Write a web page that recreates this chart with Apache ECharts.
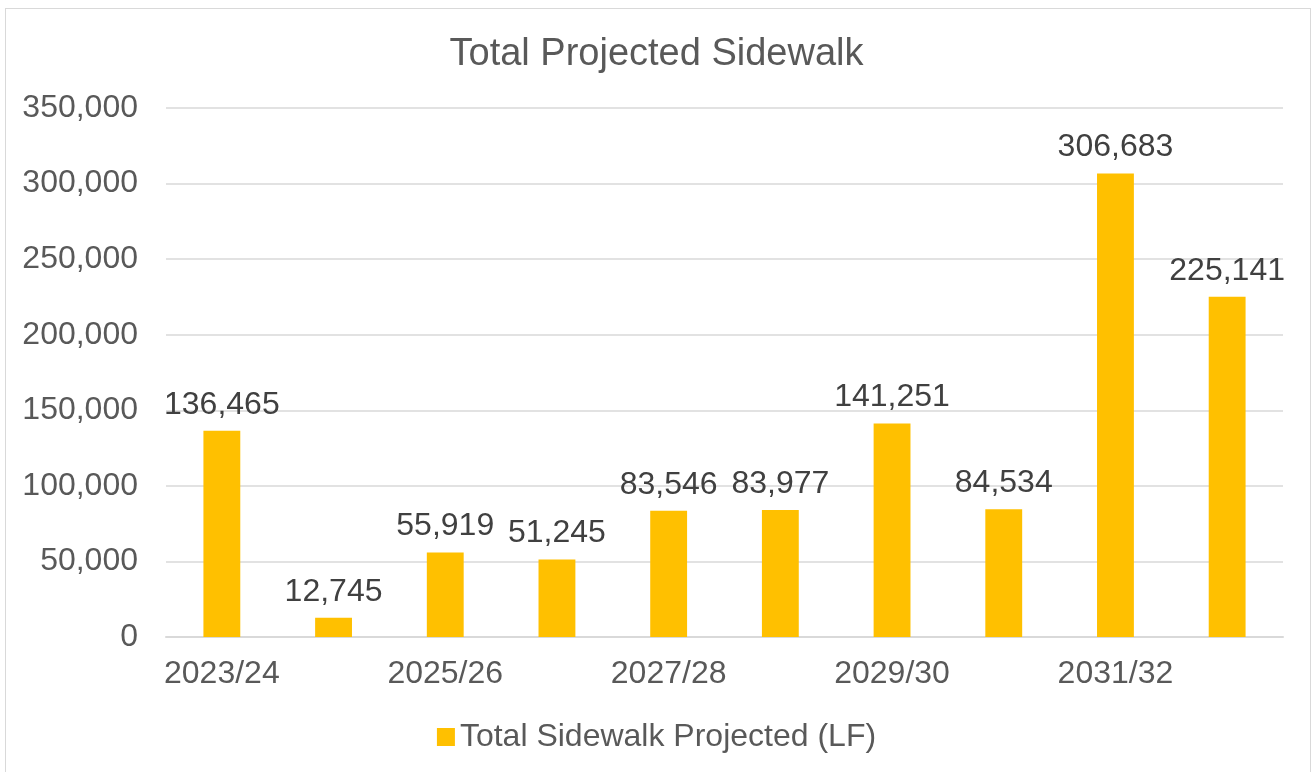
<!DOCTYPE html>
<html>
<head>
<meta charset="utf-8">
<title>Total Projected Sidewalk</title>
<script src="https://cdn.jsdelivr.net/npm/echarts@6/dist/echarts.min.js"></script>
<style>
  html, body { margin: 0; padding: 0; background: #fff; }
  #chart { position: absolute; left: 0; top: 0; width: 1313px; height: 772px; }
  .frame {
    position: absolute; left: 5px; top: 8px; width: 1304px; height: 800px;
    border: 1px solid #d9d9d9; pointer-events: none;
  }
</style>
</head>
<body>
<div id="chart"></div>
<div class="frame"></div>
<script>
const years = ['2023/24', '2024/25', '2025/26', '2026/27', '2027/28',
  '2028/29', '2029/30', '2030/31', '2031/32', '2032/33']
const sidewalk = [136465, 12745, 55919, 51245, 83546, 83977, 141251, 84534, 306683, 225141]

const fmt = (v) => Number(v).toLocaleString('en-US')
const font = '"Liberation Sans", Arial, sans-serif'

const myChart = echarts.init(document.getElementById('chart'))
const option = {
  animation: false,
  textStyle: { fontFamily: font },
  title: {
    text: 'Total Projected Sidewalk',
    left: 'center',
    top: 31,
    textStyle: { fontSize: 38, fontWeight: 'normal', color: '#595959', fontFamily: font }
  },
  legend: {
    top: 716,
    left: 'center',
    itemWidth: 18,
    itemHeight: 18,
    itemGap: 8,
    icon: 'rect',
    textStyle: { fontSize: 32, color: '#595959', fontFamily: font }
  },
  // 距离边框
  grid: { left: 166, right: 30, top: 108, bottom: 135 },
  xAxis: {
    type: 'category',
    data: years,
    axisTick: { show: false },
    axisLine: { lineStyle: { color: '#d9d9d9', width: 2 } },
    axisLabel: {
      interval: 1,
      margin: 21,
      fontSize: 32,
      color: '#595959',
      fontFamily: font
    }
  },
  yAxis: {
    type: 'value',
    min: 0,
    max: 350000,
    interval: 50000,
    axisLine: { show: false },
    axisTick: { show: false },
    splitLine: { lineStyle: { color: '#d9d9d9', width: 1.5 } },
    axisLabel: {
      margin: 28,
      fontSize: 32,
      color: '#595959',
      fontFamily: font,
      formatter: fmt
    }
  },
  series: [
    {
      name: 'Total Sidewalk Projected (LF)',
      type: 'bar',
      data: sidewalk,
      barWidth: '33%',
      itemStyle: { color: '#ffc000' },
      label: {
        show: true,
        position: 'top',
        distance: 10,
        fontSize: 32,
        color: '#404040',
        fontFamily: font,
        formatter: (p) => fmt(p.value)
      }
    }
  ]
}
myChart.setOption(option)
</script>
</body>
</html>
